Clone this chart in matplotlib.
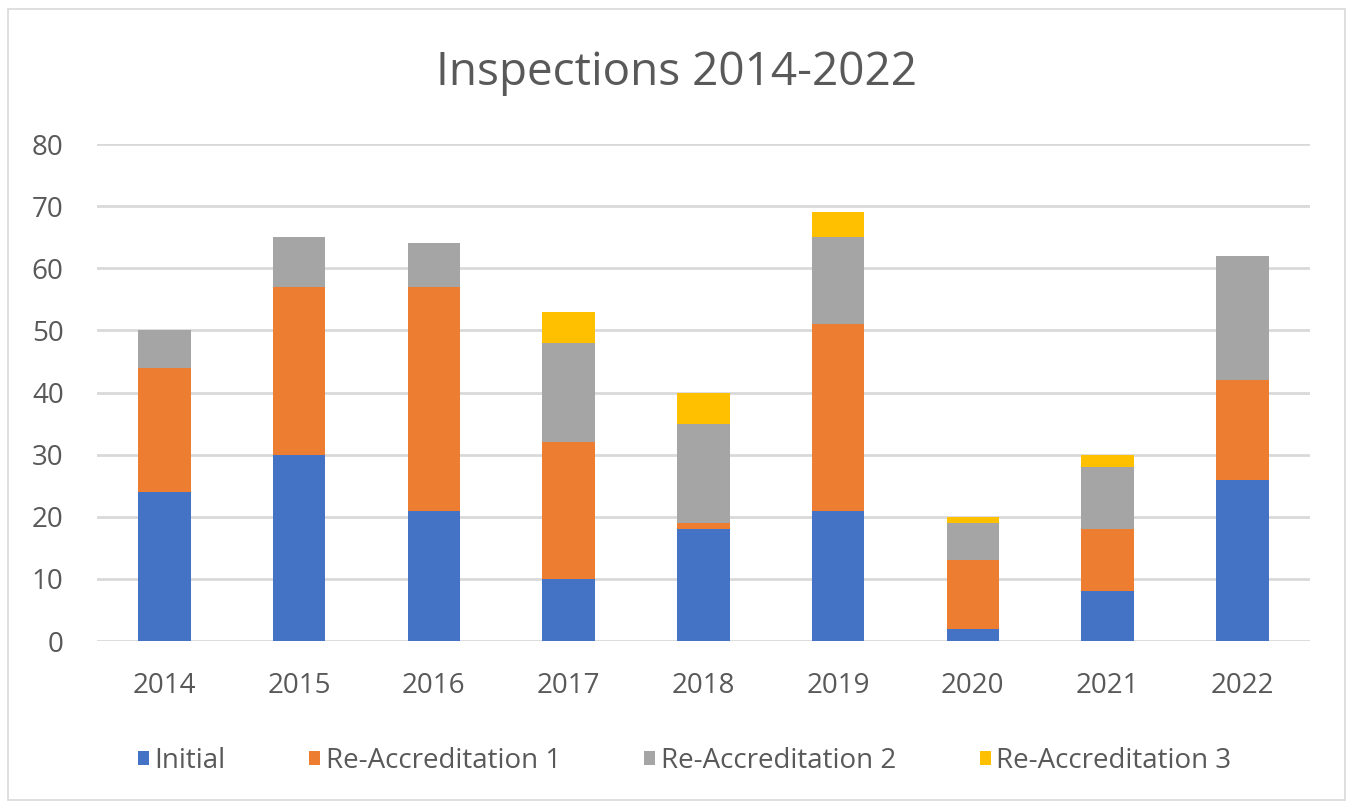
import numpy as np
import matplotlib
matplotlib.use("Agg")
import matplotlib.pyplot as plt
from matplotlib.patches import Rectangle

plt.rcParams["font.family"] = ["Open Sans", "DejaVu Sans"]

# ── Data ──────────────────────────────────────────────────────────────────────
years   = ["2014", "2015", "2016", "2017", "2018", "2019", "2020", "2021", "2022"]
initial = [24, 30, 21, 10, 18, 21, 2, 8, 26]
reacc1  = [20, 27, 36, 22, 1, 30, 11, 10, 16]
reacc2  = [6, 8, 7, 16, 16, 14, 6, 10, 20]
reacc3  = [0, 0, 0, 5, 5, 4, 1, 2, 0]

series = [
    ("Initial", initial, "#4472c4"),
    ("Re-Accreditation 1", reacc1, "#ed7d31"),
    ("Re-Accreditation 2", reacc2, "#a5a5a5"),
    ("Re-Accreditation 3", reacc3, "#ffc000"),
]

TEXT = "#595959"

fig = plt.figure(figsize=(13.53, 8.10), dpi=100)
ax = fig.add_axes([0.0717, 0.2086, 0.8963, 0.6136])

x = np.arange(len(years))
bottom = np.zeros(len(years))
for name, vals, col in series:
    vals = np.array(vals, dtype=float)
    ax.bar(x, vals, width=0.39, bottom=bottom, color=col, label=name, zorder=3)
    bottom += vals

ax.set_xlim(-0.5, len(years) - 0.5)
ax.set_ylim(0, 80)
ax.set_yticks(range(0, 81, 10))
ax.set_xticks(x)
ax.set_xticklabels(years)
ax.yaxis.grid(True, color="#d9d9d9", lw=2, zorder=0)
ax.set_axisbelow(True)
for s in ax.spines.values():
    s.set_visible(False)
ax.tick_params(axis="both", length=0, labelsize=20, labelcolor=TEXT)
ax.tick_params(axis="y", pad=24)
ax.tick_params(axis="x", pad=22)

fig.text(0.5, 0.895, "Inspections 2014-2022", ha="center", va="baseline",
         fontsize=33, color=TEXT)

leg = fig.legend(loc="center", bbox_to_anchor=(0.506, 0.061), ncol=4,
                 frameon=False, fontsize=20, handlelength=0.4, handleheight=0.4,
                 handletextpad=0.2, columnspacing=3.0)
for t in leg.get_texts():
    t.set_color(TEXT)

fig.patches.append(Rectangle((0.006, 0.012), 0.988, 0.977, transform=fig.transFigure,
                             fill=False, edgecolor="#d9d9d9", lw=1.2))

fig.savefig("out.png", dpi=100)
